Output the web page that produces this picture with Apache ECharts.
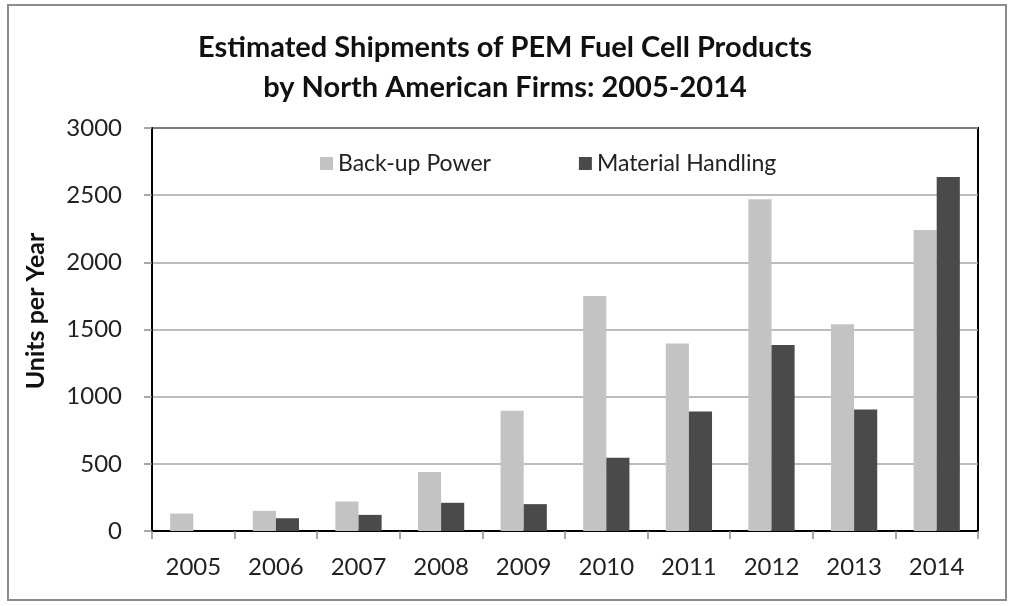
<!DOCTYPE html>
<html>
<head>
<meta charset="utf-8">
<script src="https://cdn.jsdelivr.net/npm/echarts@6/dist/echarts.min.js"></script>
<style>
  html, body { margin: 0; padding: 0; background: #fff; }
  #chart { width: 1010px; height: 606px; }
</style>
</head>
<body>
<div id="chart"></div>
<script>
const years = ['2005', '2006', '2007', '2008', '2009', '2010', '2011', '2012', '2013', '2014'];
const backupPower = [130, 150, 220, 440, 895, 1750, 1395, 2470, 1540, 2240];
const materialHandling = [0, 95, 120, 210, 200, 545, 890, 1385, 905, 2635];
const yTicks = [0, 500, 1000, 1500, 2000, 2500, 3000];

const FONT = 'Lato, "Open Sans", sans-serif';

const chart = echarts.init(document.getElementById('chart'));

const option = {
  backgroundColor: '#fff',
  animation: false,
  graphic: [
    {
      type: 'rect',
      shape: { x: 8, y: 5, width: 998, height: 595 },
      style: { fill: 'none', stroke: '#8c8c8c', lineWidth: 2 }
    },
    {
      // y axis title
      type: 'text',
      x: 36,
      y: 311,
      rotation: Math.PI / 2,
      style: {
        text: 'Units per Year',
        fontFamily: FONT,
        fontSize: 25,
        fontWeight: 'bold',
        fill: '#111',
        align: 'center',
        verticalAlign: 'middle'
      }
    }
  ],
  title: {
    text: 'Estimated Shipments of PEM Fuel Cell Products\nby North American Firms: 2005-2014',
    left: 'center',
    top: 23,
    textStyle: {
      fontFamily: FONT,
      fontSize: 29,
      fontWeight: 'bold',
      color: '#111',
      lineHeight: 40
    }
  },
  legend: {
    top: 147,
    left: 315,
    itemWidth: 13,
    itemHeight: 13,
    itemGap: 88,
    icon: 'rect',
    textStyle: { fontFamily: FONT, fontSize: 23, color: '#222' },
    data: ['Back-up Power', 'Material Handling']
  },
  grid: {
    left: 152,
    right: 32,
    top: 128,
    bottom: 75,
    show: true,
    borderColor: '#000',
    borderWidth: 2,
    containLabel: false
  },
  xAxis: {
    type: 'category',
    data: years,
    axisLine: { lineStyle: { color: '#000', width: 2 } },
    axisTick: { show: true, inside: false, length: 8, lineStyle: { color: '#8c8c8c', width: 1.5 } },
    axisLabel: { fontFamily: FONT, fontSize: 24, color: '#222', margin: 24 }
  },
  yAxis: {
    type: 'value',
    min: 0,
    max: 3000,
    interval: 500,
    axisLine: { show: true, lineStyle: { color: '#000', width: 2 } },
    axisTick: { show: true, inside: false, length: 8, lineStyle: { color: '#8c8c8c', width: 1.5 } },
    axisLabel: {
      fontFamily: FONT,
      fontSize: 24,
      color: '#222',
      margin: 30,
      formatter: v => (yTicks.includes(v) ? String(v) : '')
    },
    splitLine: { show: true, lineStyle: { color: '#a6a6a6', width: 1.5 } }
  },
  series: [
    {
      name: 'Back-up Power',
      type: 'bar',
      data: backupPower,
      barGap: '0%',
      barCategoryGap: '44%',
      itemStyle: { color: '#c3c3c3' }
    },
    {
      name: 'Material Handling',
      type: 'bar',
      data: materialHandling,
      itemStyle: { color: '#4a4a4a' }
    }
  ]
};

chart.setOption(option);
</script>
</body>
</html>
